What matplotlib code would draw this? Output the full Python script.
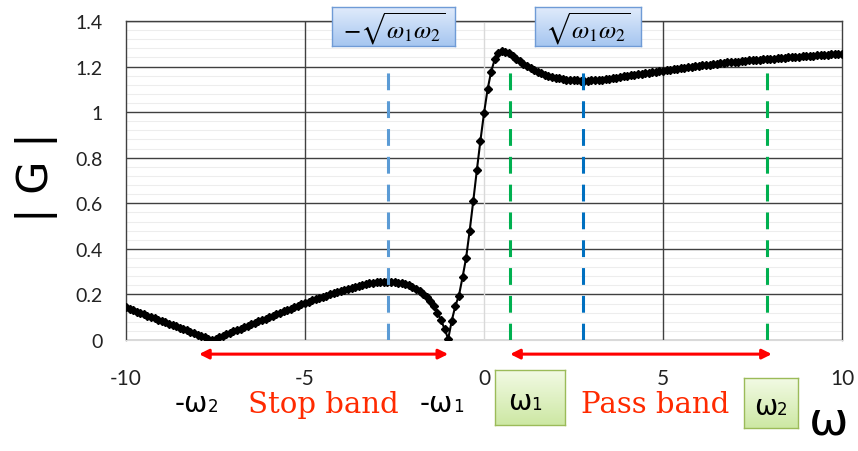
#|G| vs omega, stop band / pass band sketch

import numpy as np
import matplotlib.pyplot as plt
from matplotlib.ticker import MultipleLocator

# omega from -10 to 10, one sample every 0.1
omega = np.round(np.linspace(-10, 10, 201), 1)

gain = [
    0.143, 0.137, 0.131, 0.125, 0.119, 0.113, 0.107, 0.101, 0.095, 0.089,  # -10.0 .. -9.1
    0.083, 0.077, 0.071, 0.065, 0.060, 0.054, 0.048, 0.042, 0.036, 0.030,  # -9.0 .. -8.1
    0.024, 0.018, 0.012, 0.006, 0.000, 0.006, 0.013, 0.019, 0.025, 0.032,  # -8.0 .. -7.1
    0.038, 0.044, 0.050, 0.057, 0.063, 0.069, 0.076, 0.082, 0.088, 0.094,  # -7.0 .. -6.1
    0.101, 0.107, 0.113, 0.119, 0.126, 0.132, 0.138, 0.144, 0.150, 0.156,  # -6.0 .. -5.1
    0.162, 0.168, 0.174, 0.179, 0.185, 0.190, 0.195, 0.200, 0.205, 0.210,  # -5.0 .. -4.1
    0.215, 0.220, 0.225, 0.230, 0.234, 0.239, 0.243, 0.246, 0.249, 0.252,  # -4.0 .. -3.1
    0.254, 0.255, 0.256, 0.256, 0.255, 0.254, 0.252, 0.249, 0.245, 0.240,  # -3.0 .. -2.1
    0.234, 0.226, 0.216, 0.204, 0.189, 0.171, 0.148, 0.120, 0.087, 0.048,  # -2.0 .. -1.1
    0.005, 0.085, 0.150, 0.195, 0.275, 0.360, 0.480, 0.610, 0.745, 0.875,  # -1.0 .. -0.1
    0.995, 1.100, 1.178, 1.232, 1.258, 1.268, 1.266, 1.258, 1.247, 1.235,  # 0.0 .. 0.9
    1.224, 1.213, 1.203, 1.194, 1.186, 1.178, 1.171, 1.165, 1.160, 1.155,  # 1.0 .. 1.9
    1.151, 1.148, 1.145, 1.143, 1.141, 1.140, 1.139, 1.138, 1.138, 1.138,  # 2.0 .. 2.9
    1.139, 1.140, 1.141, 1.143, 1.145, 1.147, 1.150, 1.152, 1.154, 1.157,  # 3.0 .. 3.9
    1.159, 1.161, 1.164, 1.166, 1.169, 1.171, 1.173, 1.176, 1.178, 1.180,  # 4.0 .. 4.9
    1.182, 1.184, 1.186, 1.188, 1.190, 1.192, 1.194, 1.196, 1.199, 1.201,  # 5.0 .. 5.9
    1.203, 1.205, 1.207, 1.209, 1.211, 1.213, 1.214, 1.216, 1.218, 1.219,  # 6.0 .. 6.9
    1.221, 1.222, 1.224, 1.225, 1.227, 1.228, 1.229, 1.231, 1.232, 1.233,  # 7.0 .. 7.9
    1.234, 1.235, 1.236, 1.238, 1.239, 1.240, 1.241, 1.242, 1.243, 1.245,  # 8.0 .. 8.9
    1.246, 1.247, 1.248, 1.249, 1.250, 1.251, 1.252, 1.253, 1.254, 1.254,  # 9.0 .. 9.9
    1.255,                                                                 # 10.0
]

# marker lines
w1 = 0.73
w2 = 7.91
sqrt_neg = -2.69
sqrt_pos = 2.77
dash_top = 1.2

# band arrows
stop_band = (-7.96, -1.0)
pass_band = (0.73, 8.04)

xticks = [-10, -5, 0, 5, 10]
yticks = [0, 0.2, 0.4, 0.6, 0.8, 1.0, 1.2, 1.4]
ytick_labels = ['0', '0.2', '0.4', '0.6', '0.8', '1', '1.2', '1.4']

plt.rcParams['mathtext.fontset'] = 'stix'

W, H = 858, 452
fig = plt.figure(figsize=(W / 100, H / 100), dpi=100)
ax = fig.add_axes([126 / W, 111 / H, 716 / W, 319 / H])


def px(x, y):
    # pixel position (from top-left) -> figure fraction
    return x / W, 1 - y / H


def grad_box(x0, y0, x1, y1, top, bottom, edge):
    # small axes used as a box with a vertical colour gradient
    fx0, fy1 = px(x0, y1)
    fx1, fy0 = px(x1, y0)
    bax = fig.add_axes([fx0, fy1, fx1 - fx0, fy0 - fy1], zorder=5)
    c0 = np.array(plt.matplotlib.colors.to_rgb(top))
    c1 = np.array(plt.matplotlib.colors.to_rgb(bottom))
    t = np.linspace(0, 1, 50)[:, None, None]
    img = c0 * (1 - t) + c1 * t
    bax.imshow(img, aspect='auto', extent=(0, 1, 0, 1))
    bax.set_xticks([])
    bax.set_yticks([])
    for sp in bax.spines.values():
        sp.set_color(edge)
        sp.set_linewidth(1.0)
    return bax


def omega_label(x, y, sub, size=20):
    # omega with a plain small index next to it, like "-ω2"
    fig.text(*px(x, y), sub[0], fontsize=size, ha='right', va='center',
             zorder=8)
    fig.text(*px(x, y + 3), sub[1], fontsize=size * 0.6, ha='left',
             va='center', zorder=8)


ax.set_xlim(-10, 10)
ax.set_ylim(0, 1.4)
ax.set_xticks(xticks)
ax.set_xticklabels([str(t) for t in xticks])
ax.set_yticks(yticks)
ax.set_yticklabels(ytick_labels)
ax.tick_params(length=0, labelsize=14, colors='#222222')
ax.tick_params(axis='x', pad=20, labelsize=15)
ax.tick_params(axis='y', pad=17)
for lab in ax.get_xticklabels() + ax.get_yticklabels():
    lab.set_family('Lato')

# grid
ax.yaxis.set_minor_locator(MultipleLocator(0.04))
ax.grid(which='minor', axis='y', color='#ededed', linewidth=0.8)
ax.grid(which='major', axis='y', color='#404040', linewidth=1.0)
ax.tick_params(which='minor', length=0)
for xv in [-5, 5]:
    ax.axvline(xv, color='#404040', linewidth=1.0, zorder=1)
ax.axvline(0, color='#d9d9d9', linewidth=1.0, zorder=1)
ax.set_axisbelow(True)
for side in ['left', 'top', 'right']:
    ax.spines[side].set_color('#404040')
    ax.spines[side].set_linewidth(1.0)
ax.spines['bottom'].set_color('#d9d9d9')

# curve
ax.plot(omega, gain, color='black', linewidth=1.5, marker='D', markersize=3.6,
        zorder=3)

# dashed markers
dash = (0, (5.5, 3.6))
ax.plot([sqrt_neg, sqrt_neg], [0, dash_top], color='#5b9bd5', linewidth=2.2,
        linestyle=dash, zorder=4)
ax.plot([sqrt_pos, sqrt_pos], [0, dash_top], color='#0070c0', linewidth=2.2,
        linestyle=dash, zorder=4)
for xv in [w1, w2]:
    ax.plot([xv, xv], [0, dash_top], color='#00b050', linewidth=2.2,
            linestyle=dash, zorder=4)

# band arrows under the axis
arrow_y = -0.062
for a, b in [stop_band, pass_band]:
    ax.annotate('', xy=(a, arrow_y), xytext=(b, arrow_y),
                arrowprops=dict(arrowstyle='<|-|>', color='#ff0000', lw=2.2,
                                mutation_scale=14, shrinkA=0, shrinkB=0),
                annotation_clip=False)

# axis titles
fig.text(*px(37, 177), '| G |', rotation=90, fontsize=31, ha='center',
         va='center')
fig.text(*px(829, 422), 'ω', fontsize=34, ha='center', va='center')

# labels under the axis
red = '#ff2a00'
omega_label(208, 404, ('-ω', '2'))
fig.text(*px(323, 405), 'Stop band', fontsize=21, ha='center', va='center',
         color=red, family='DejaVu Serif')
omega_label(453, 404, ('-ω', '1'))
fig.text(*px(655, 405), 'Pass band', fontsize=21, ha='center', va='center',
         color=red, family='DejaVu Serif')

# green boxes for omega1, omega2
grad_box(495, 371, 565, 426, '#f2fae4', '#cde8a4', '#9bbb59')
omega_label(531, 402, ('ω', '1'))
grad_box(744, 379, 798, 429, '#f2fae4', '#cde8a4', '#9bbb59')
omega_label(777, 407, ('ω', '2'))

# blue boxes at the top
grad_box(332, 8, 455, 47, '#e0ebfb', '#a6c6f0', '#6f9bd6')
fig.text(*px(394, 29), r'$-\sqrt{\omega_1\omega_2}$', fontsize=18,
         ha='center', va='center', zorder=8)
grad_box(535, 8, 641, 47, '#e0ebfb', '#a6c6f0', '#6f9bd6')
fig.text(*px(588, 29), r'$\sqrt{\omega_1\omega_2}$', fontsize=18,
         ha='center', va='center', zorder=8)

plt.savefig('out.png', dpi=100)
